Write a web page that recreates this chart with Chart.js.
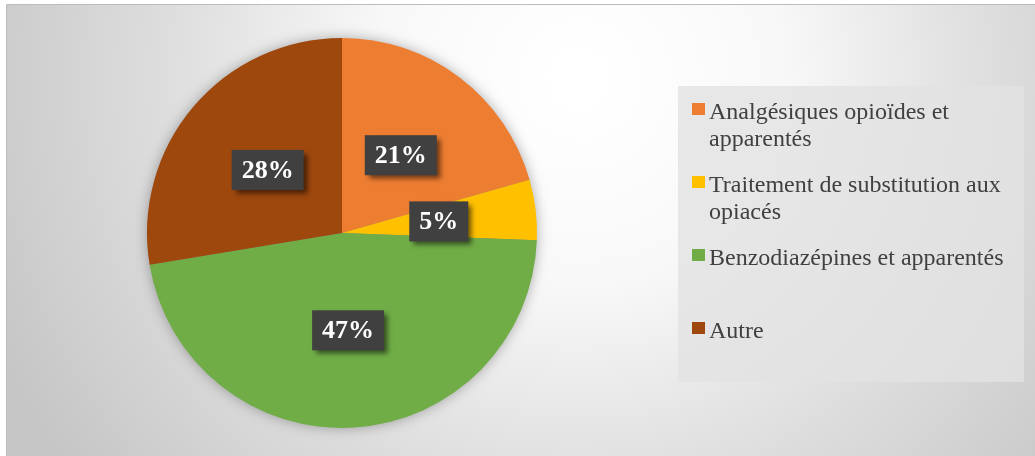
<!DOCTYPE html>
<html>
<head>
<meta charset="utf-8">
<script src="https://cdn.jsdelivr.net/npm/chart.js@4"></script>
<style>
  html, body { margin: 0; padding: 0; background: #fff; }
  #wrap { width: 1035px; height: 456px; }
</style>
</head>
<body>
<div id="wrap"><canvas id="pie"></canvas></div>
<script>
// values (slice angles), labels shown as rounded percents
const categories = [
    'Analgésiques opioïdes et apparentés',
    'Traitement de substitution aux opiacés',
    'Benzodiazépines et apparentés',
    'Autre'
];
const shares = [20.6, 5.0, 46.8, 27.6];
const sliceColors = ['#ED7D31', '#FFC000', '#70AD47', '#9E480E'];

const backdrop = {
    id: 'backdrop',
    beforeDraw(chart) {
        const ctx = chart.ctx;
        const w = chart.width, h = chart.height;
        ctx.save();
        ctx.fillStyle = '#ffffff';
        ctx.fillRect(0, 0, w, h);
        const g = ctx.createRadialGradient(580, 80, 20, 580, 80, 640);
        g.addColorStop(0, '#ffffff');
        g.addColorStop(0.3, '#f8f8f8');
        g.addColorStop(0.6, '#e0e0e0');
        g.addColorStop(1, '#c6c6c6');
        ctx.fillStyle = g;
        ctx.fillRect(6, 5, w - 6, h - 5);
        ctx.strokeStyle = '#bcbcbc';
        ctx.lineWidth = 1;
        ctx.beginPath();
        ctx.moveTo(6.5, h);
        ctx.lineTo(6.5, 4.5);
        ctx.lineTo(w, 4.5);
        ctx.stroke();
        ctx.restore();
    },
    beforeDatasetsDraw(chart) {
        // soft shadow round the whole pie
        const arc = chart.getDatasetMeta(0).data[0];
        if (!arc) return;
        const ctx = chart.ctx;
        ctx.save();
        ctx.shadowColor = 'rgba(0,0,0,0.35)';
        ctx.shadowBlur = 14;
        ctx.fillStyle = '#888';
        ctx.beginPath();
        ctx.arc(arc.x, arc.y, arc.outerRadius - 1, 0, Math.PI * 2);
        ctx.fill();
        ctx.restore();
    }
};

const sliceLabels = {
    id: 'sliceLabels',
    afterDatasetsDraw(chart) {
        const ctx = chart.ctx;
        const vals = chart.data.datasets[0].data;
        const total = vals.reduce((a, b) => a + b, 0);
        ctx.save();
        ctx.font = 'bold 26px "Liberation Serif", "Times New Roman", serif';
        ctx.textAlign = 'center';
        ctx.textBaseline = 'middle';
        chart.getDatasetMeta(0).data.forEach((arc, i) => {
            const p = arc.tooltipPosition();
            const txt = Math.round(vals[i] / total * 100) + '%';
            const tw = ctx.measureText(txt).width;
            const bw = tw + 20, bh = 40;
            ctx.save();
            ctx.shadowColor = 'rgba(0,0,0,0.55)';
            ctx.shadowBlur = 5;
            ctx.shadowOffsetX = 4;
            ctx.shadowOffsetY = 4;
            ctx.fillStyle = '#404040';
            ctx.fillRect(p.x - bw / 2, p.y - bh / 2, bw, bh);
            ctx.restore();
            ctx.fillStyle = '#ffffff';
            ctx.fillText(txt, p.x, p.y + 1);
        });
        ctx.restore();
    }
};

const sideLegend = {
    id: 'sideLegend',
    afterDraw(chart) {
        const ctx = chart.ctx;
        const labels = chart.data.labels;
        const colors = chart.data.datasets[0].backgroundColor;
        ctx.save();
        ctx.fillStyle = 'rgba(226,226,226,0.8)';
        ctx.fillRect(678, 86, 346, 296);
        ctx.font = '24px "Liberation Serif", "Times New Roman", serif';
        ctx.textBaseline = 'alphabetic';
        ctx.textAlign = 'left';
        const maxW = 305;
        labels.forEach((label, i) => {
            const base = 119 + i * 73;
            ctx.fillStyle = colors[i];
            ctx.fillRect(692, base - 16, 13, 12);
            // word wrap
            const words = label.split(' ');
            const lines = [];
            let cur = '';
            words.forEach(wd => {
                const test = cur ? cur + ' ' + wd : wd;
                if (ctx.measureText(test).width > maxW && cur) {
                    lines.push(cur);
                    cur = wd;
                } else {
                    cur = test;
                }
            });
            lines.push(cur);
            ctx.fillStyle = '#404040';
            lines.forEach((ln, k) => ctx.fillText(ln, 709, base + k * 27));
        });
        ctx.restore();
    }
};

new Chart(document.getElementById('pie'), {
    type: 'pie',
    data: {
        labels: categories,
        datasets: [{
            data: shares,
            backgroundColor: sliceColors,
            borderWidth: 0
        }]
    },
    options: {
        responsive: true,
        maintainAspectRatio: false,
        animation: false,
        layout: {
            padding: { left: 147, right: 498, top: 38, bottom: 28 }
        },
        plugins: {
            legend: { display: false },
            tooltip: { enabled: false }
        }
    },
    plugins: [backdrop, sliceLabels, sideLegend]
});
</script>
</body>
</html>
